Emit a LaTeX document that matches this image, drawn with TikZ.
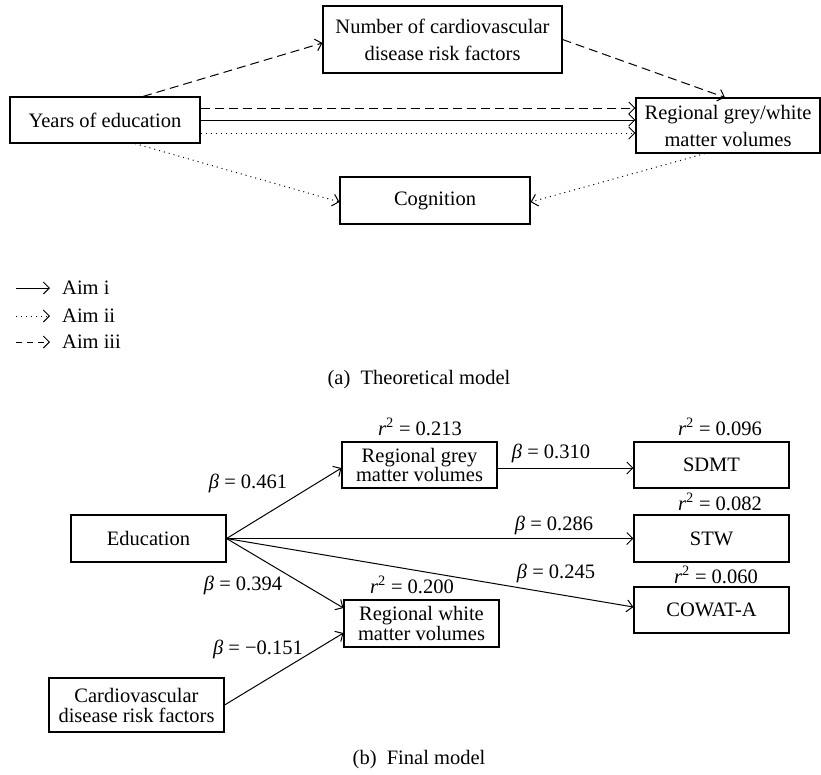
\documentclass[tikz,border=0pt]{standalone}
\usepackage{fontspec}
\setmainfont{Liberation Serif}
\usetikzlibrary{arrows.meta}
\begin{document}
\begin{tikzpicture}[x=1pt,y=-1pt,
  every node/.style={font=\fontsize{20.5}{22}\selectfont},
  box/.style={draw,line width=1.1pt,inner sep=0pt,align=center},
  lbl/.style={inner sep=0pt},
  conn/.style={line width=1pt,-{Straight Barb[length=6pt,width=12pt,line width=1pt]}},
  dsh/.style={conn,dash pattern=on 9pt off 5pt},
  dtt/.style={conn,dash pattern=on 1pt off 4pt}]
\useasboundingbox (0,0) rectangle (821,774);
% ---------- panel (a)
\node[box,minimum width=190pt,minimum height=46pt] (yrs) at (105,120) {Years of education};
\node[box,minimum width=239pt,minimum height=67pt,font=\fontsize{20.5}{27}\selectfont] (ncv) at (442.5,39.5) {Number of cardiovascular\\disease risk factors};
\node[box,minimum width=190pt,minimum height=47pt] (cog) at (435,200.5) {Cognition};
\node[box,minimum width=184pt,minimum height=55pt,font=\fontsize{20.5}{27}\selectfont] (rgw) at (728,125.5) {Regional grey/white\\matter volumes};
\draw[dsh] ([xshift=38pt]yrs.north) -- ([yshift=-3.5pt]ncv.west);
\draw[dsh] (ncv.east) -- ([xshift=-3pt]rgw.north);
\coordinate (h1) at ([yshift=12pt]yrs.east);
\coordinate (h3) at ([yshift=-13pt]yrs.east);
\draw[dsh] (h1) -- (h1 -| rgw.west);
\draw[conn] (yrs.east) -- (yrs.east -| rgw.west);
\draw[dtt] (h3) -- (h3 -| rgw.west);
\draw[dtt] ([xshift=30pt]yrs.south) -- ([yshift=-1.5pt]cog.west);
\draw[dtt] ([xshift=-23pt]rgw.south) -- ([yshift=-1.5pt]cog.east);
% legend
\coordinate (l1s) at (16,288); \coordinate (l1e) at (50,288);
\coordinate (l2s) at (16,316); \coordinate (l2e) at (50,316);
\coordinate (l3s) at (16,342); \coordinate (l3e) at (50,342);
\draw[conn] (l1s) -- (l1e);
\draw[dtt] (l2s) -- (l2e);
\draw[dsh,dash pattern=on 6pt off 5pt] (l3s) -- (l3e);
\node[lbl,anchor=west] (t1) at (62,288) {Aim i};
\node[lbl,anchor=west] (t2) at (62,316) {Aim ii};
\node[lbl,anchor=west] (t3) at (62,342) {Aim iii};
\node[lbl] (capa) at (419,380) {(a)\hspace{0.5em}Theoretical model};
% ---------- panel (b)
\node[box,minimum width=155pt,minimum height=47pt] (edu) at (148.5,538.5) {Education};
\node[box,minimum width=155pt,minimum height=46pt,font=\fontsize{20.5}{18}\selectfont] (grey) at (419.5,465) {Regional grey\\matter volumes};
\node[box,minimum width=155pt,minimum height=47pt,font=\fontsize{20.5}{18}\selectfont] (white) at (421.5,623.5) {Regional white\\matter volumes};
\node[box,minimum width=175pt,minimum height=54pt,font=\fontsize{20.5}{20}\selectfont] (cvd) at (136.5,705) {Cardiovascular\\disease risk factors};
\node[box,minimum width=155pt,minimum height=46pt] (sdmt) at (711.5,465) {SDMT};
\node[box,minimum width=155pt,minimum height=47pt] (stw) at (711.5,538.5) {STW};
\node[box,minimum width=155pt,minimum height=46pt] (cow) at (711.5,610) {COWAT-A};
\draw[conn] (edu.east) -- ([yshift=-3pt]grey.west);
\draw[conn] (edu.east) -- ([yshift=15.5pt]white.west);
\draw[conn] (cvd.east) -- ([yshift=-9.5pt]white.west);
\draw[conn] ([yshift=-3pt]grey.east) -- ([yshift=-3pt]sdmt.west);
\draw[conn] (edu.east) -- (stw.west);
\draw[conn] (edu.east) -- ([yshift=3pt]cow.west);
\node[lbl] (r1) at (420,427) {\textit{r}\textsuperscript{2} = 0.213};
\node[lbl] (b1) at (248,483) {\textit{β} = 0.461};
\node[lbl] (r2) at (412,585) {\textit{r}\textsuperscript{2} = 0.200};
\node[lbl] (b2) at (243,585) {\textit{β} = 0.394};
\node[lbl] (b3) at (258,649) {\textit{β} = −0.151};
\node[lbl] (r3) at (720,427) {\textit{r}\textsuperscript{2} = 0.096};
\node[lbl] (b4) at (551,453) {\textit{β} = 0.310};
\node[lbl] (r4) at (720,502) {\textit{r}\textsuperscript{2} = 0.082};
\node[lbl] (b5) at (554,525) {\textit{β} = 0.286};
\node[lbl] (r5) at (716,575) {\textit{r}\textsuperscript{2} = 0.060};
\node[lbl] (b6) at (556,573) {\textit{β} = 0.245};
\node[lbl] (capb) at (419,760) {(b)\hspace{0.5em}Final model};
\end{tikzpicture}
\end{document}
